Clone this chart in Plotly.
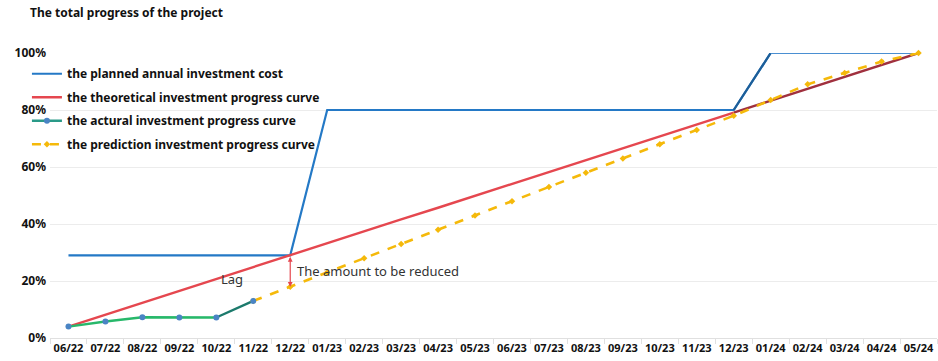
import plotly.graph_objects as go

categories = ["06/22", "07/22", "08/22", "09/22", "10/22", "11/22", "12/22", "01/23",
              "02/23", "03/23", "04/23", "05/23", "06/23", "07/23", "08/23", "09/23",
              "10/23", "11/23", "12/23", "01/24", "02/24", "03/24", "04/24", "05/24"]

planned = [29, 29, 29, 29, 29, 29, 29, 80, 80, 80, 80, 80, 80, 80, 80, 80,
           80, 80, 80, 100, 100, 100, 100, 100]

theoretical = [4.0, 8.2, 12.3, 16.5, 20.7, 24.9, 29.0, 33.2, 37.4, 41.6, 45.7, 49.9,
               54.1, 58.3, 62.4, 66.6, 70.8, 75.0, 79.1, 83.3, 87.5, 91.7, 95.8, 100]

actual = [4.0, 5.8, 7.3, 7.2, 7.2, 13.0]

prediction = [None, None, None, None, None, 13, 18, 23, 28, 33, 38, 43, 48, 53, 58,
              63, 68, 73, 78, 83.5, 89, 93, 97, 100]

names = ["the planned annual investment cost",
         "the theoretical investment progress curve",
         "the actural investment progress curve",
         "the prediction investment progress curve"]

FONT = "Noto Sans"

def pct(v):
    return [None if x is None else x / 100 for x in v]

def bold(s):
    return "<b>" + s + "</b>"

fig = go.Figure()

# planned
fig.add_trace(go.Scatter(x=categories, y=pct(planned), mode="lines", name=bold(names[0]),
                         legendgroup="g1",
                         line=dict(color="#2479c6", width=2.2), cliponaxis=False))
fig.add_trace(go.Scatter(x=categories[18:20], y=pct(planned[18:20]), mode="lines",
                         legendgroup="g1",
                         line=dict(color="#1d5e98", width=2.2), showlegend=False,
                         hoverinfo="skip"))
fig.add_trace(go.Scatter(x=categories[19:], y=pct(planned[19:]), mode="lines",
                         legendgroup="g1",
                         line=dict(color="#4a8fd2", width=2.0), showlegend=False,
                         hoverinfo="skip", cliponaxis=False))

# theoretical
fig.add_trace(go.Scatter(x=categories[:19], y=pct(theoretical[:19]), mode="lines",
                         name=bold(names[1]), legendgroup="g2",
                         line=dict(color="#e5474f", width=2.4)))
fig.add_trace(go.Scatter(x=categories[18:], y=pct(theoretical[18:]), mode="lines",
                         legendgroup="g2",
                         line=dict(color="#a0303e", width=2.4), showlegend=False,
                         hoverinfo="skip", cliponaxis=False))

# actual
fig.add_trace(go.Scatter(x=categories[:5], y=pct(actual[:5]), mode="lines",
                         legendgroup="g3",
                         line=dict(color="#27b86a", width=2.4), showlegend=False,
                         hoverinfo="skip"))
fig.add_trace(go.Scatter(x=categories[4:6], y=pct(actual[4:6]), mode="lines",
                         legendgroup="g3",
                         line=dict(color="#1c7a6c", width=2.4), showlegend=False,
                         hoverinfo="skip"))
# legend entry for actual curve
fig.add_trace(go.Scatter(x=[None], y=[None], mode="lines+markers",
                         name=bold(names[2]), legendgroup="g3",
                         line=dict(color="#2a9a88", width=2.4),
                         marker=dict(color="#4a84c4", size=6)))

# prediction
fig.add_trace(go.Scatter(x=categories, y=pct(prediction), mode="lines+markers",
                         name=bold(names[3]), legendgroup="g4",
                         line=dict(color="#f5b90a", width=2.6, dash="dash"),
                         marker=dict(color="#f5b90a", size=5, symbol="diamond"),
                         cliponaxis=False))

# actual markers on top
fig.add_trace(go.Scatter(x=categories[:6], y=pct(actual), mode="markers",
                         legendgroup="g3", showlegend=False,
                         marker=dict(color="#4a84c4", size=6)))

# lag arrow between theoretical and prediction at 12/22
fig.add_annotation(x=categories[6], y=prediction[6] / 100, ax=categories[6],
                   ay=theoretical[6] / 100, xref="x", yref="y", axref="x", ayref="y",
                   text="", showarrow=True, arrowhead=2, startarrowhead=2,
                   arrowside="end+start", arrowsize=0.8, arrowwidth=1.2,
                   arrowcolor="#e5474f")
fig.add_annotation(x=categories[4], y=0.206, xref="x", yref="y", text="Lag",
                   showarrow=False, xshift=16,
                   font=dict(family=FONT, size=13, color="#333333"))
fig.add_annotation(x=categories[6], y=0.235, xref="x", yref="y",
                   text="The amount to be reduced", showarrow=False,
                   xanchor="left", xshift=5,
                   font=dict(family=FONT, size=13, color="#333333"))

fig.update_layout(
    width=938, height=361,
    margin=dict(l=50, r=1, t=53, b=23, autoexpand=False),
    paper_bgcolor="white", plot_bgcolor="white",
    title=dict(text="<b>The total progress of the project</b>", x=30 / 938, xanchor="left",
               y=1 - 13 / 361, yanchor="middle",
               font=dict(family=FONT, size=12, color="#111111")),
    font=dict(family=FONT, color="#222222"),
    showlegend=True,
    legend=dict(x=-0.026, y=0.978, xanchor="left", yanchor="top",
                bgcolor="rgba(255,255,255,0)", itemwidth=30, traceorder="grouped",
                font=dict(family=FONT, size=12, color="#111111"),
                tracegroupgap=4.5),
    xaxis=dict(type="category", range=[-0.5, 23.5], showgrid=False, automargin=False,
               tickangle=0,
               tickson="boundaries", ticks="outside", ticklen=5, tickcolor="#e0e0e0",
               showline=True, linecolor="#e0e0e0", linewidth=1,
               tickfont=dict(family=FONT, size=11, color="#111111", weight="bold")),
    yaxis=dict(range=[0, 1.0], tickvals=[0, 0.2, 0.4, 0.6, 0.8, 1.0], automargin=False,
               tickformat=".0%", showgrid=True, gridcolor="#ececec", gridwidth=1,
               zeroline=False, showline=False, ticklabelstandoff=3,
               tickfont=dict(family=FONT, size=12, color="#111111", weight="bold")),
)

fig.write_html("out.html")
